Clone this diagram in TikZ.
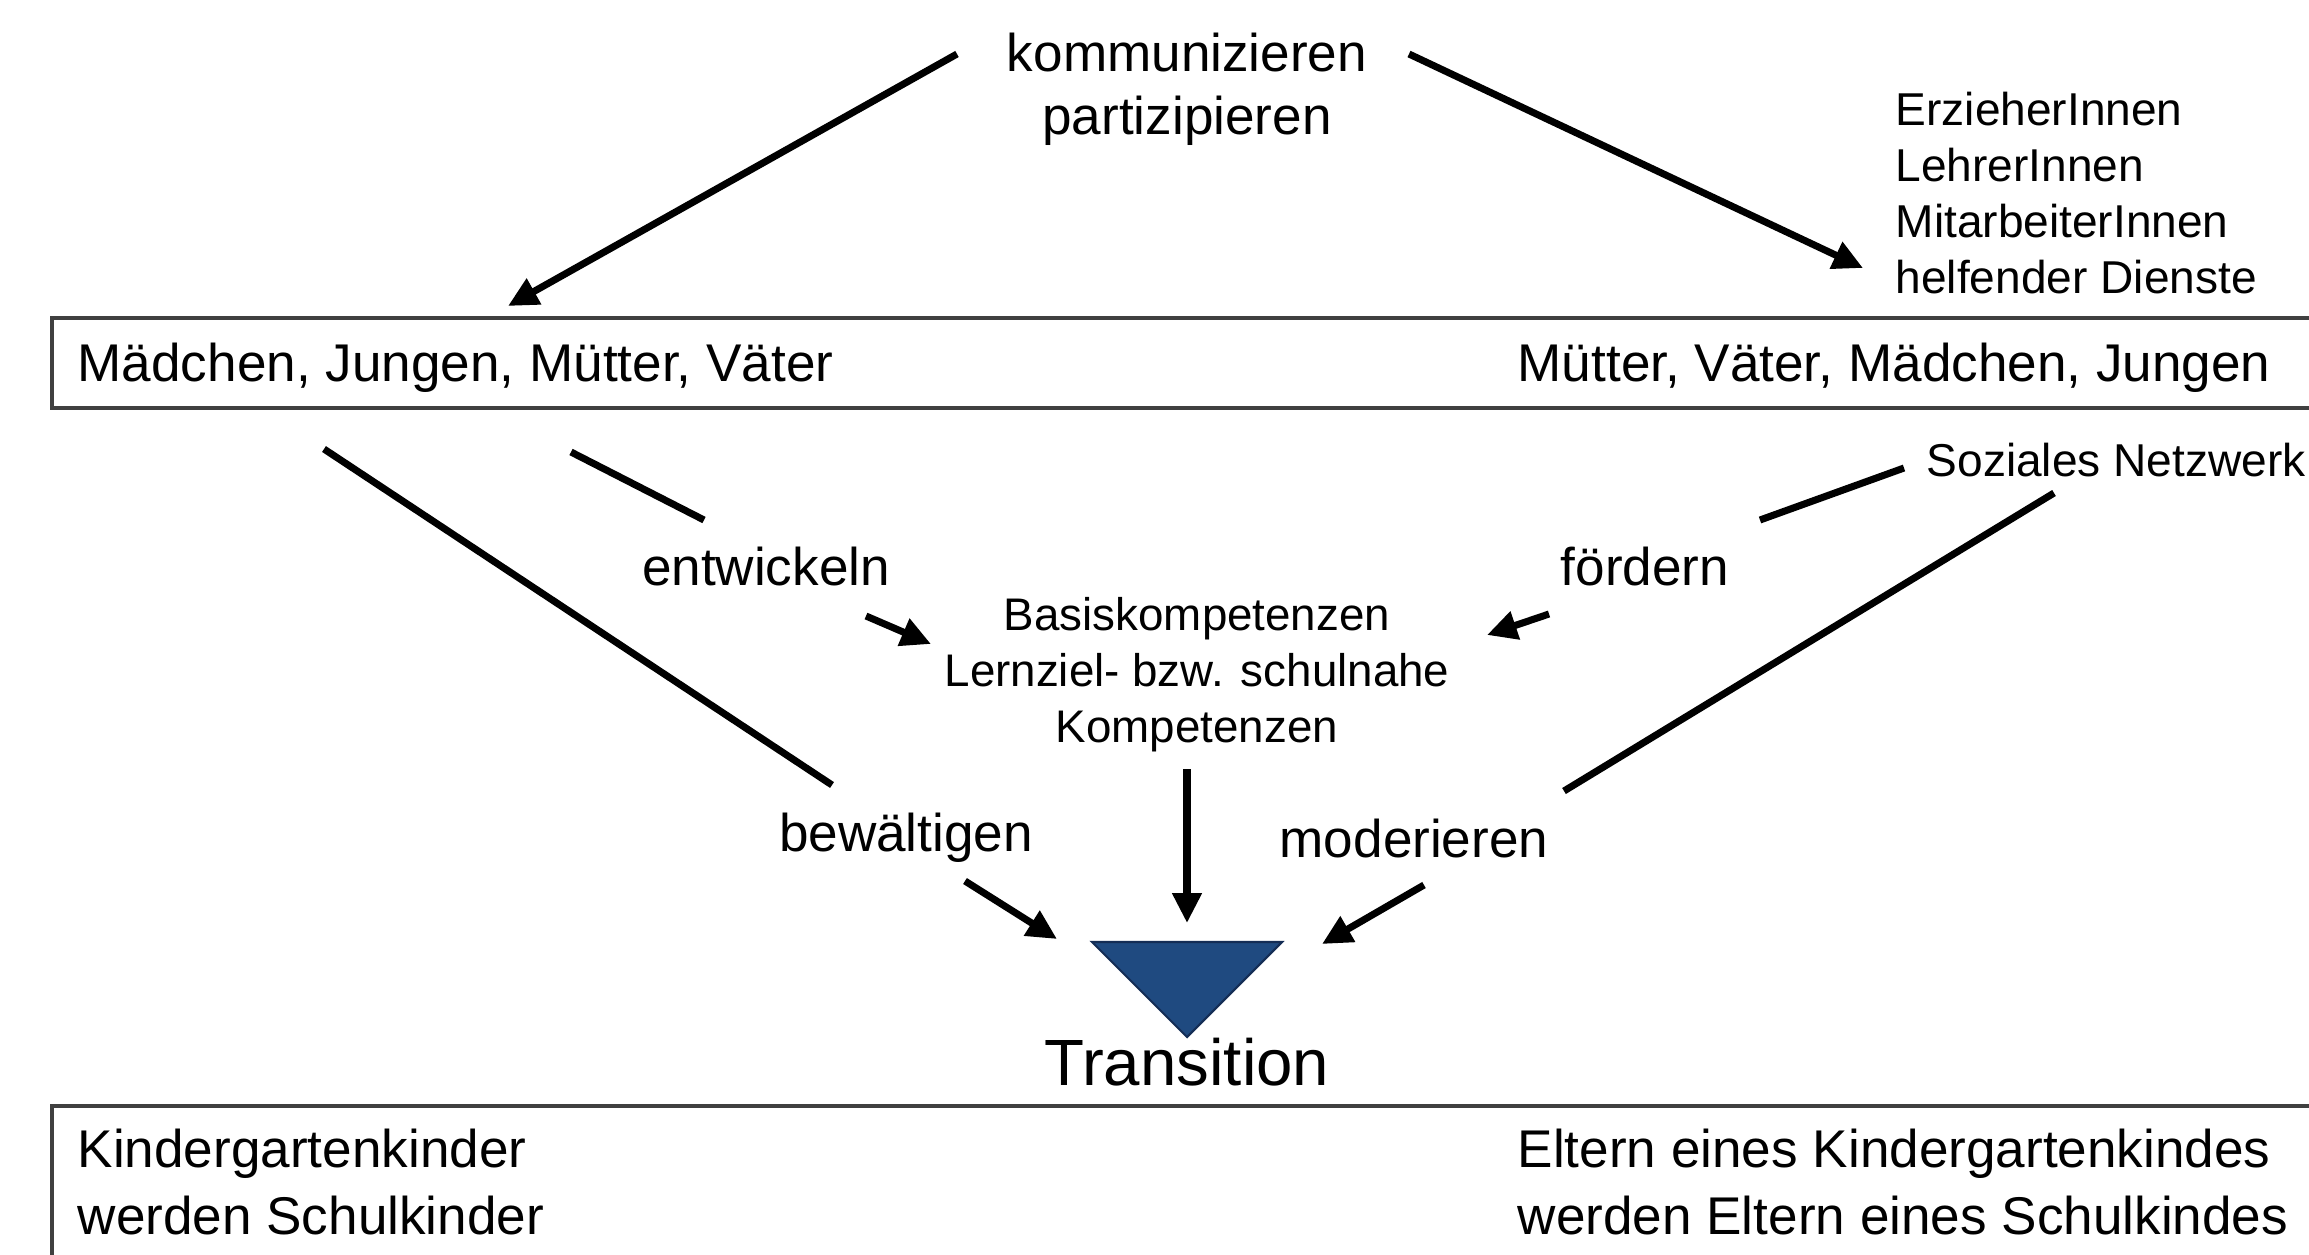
\documentclass[tikz,border=0pt]{standalone}
\usepackage{fontspec}
\setmainfont{Liberation Sans}
\usetikzlibrary{arrows.meta}
\definecolor{trifill}{RGB}{31,74,128}
\definecolor{triedge}{RGB}{20,45,85}
\tikzset{
  conn/.style={line width=2pt, black, line cap=butt},
  arr/.style={conn, -{Triangle[length=8.5pt,width=8pt]}},
  boxline/.style={draw=black!75, line width=0.9pt},
  bigtxt/.style={font=\fontsize{15.1}{17.9}\selectfont, inner sep=0pt},
  smalltxt/.style={font=\fontsize{13.1}{15.9}\selectfont, inner sep=0pt},
  basistxt/.style={font=\fontsize{13}{15.9}\selectfont, inner sep=0pt},
  transtxt/.style={font=\fontsize{18.6}{21}\selectfont, inner sep=0pt},
  boxtxt/.style={font=\fontsize{15.1}{18.8}\selectfont, inner sep=0pt}
}
\begin{document}
\begin{tikzpicture}[x=0.01cm, y=-0.01cm]
\useasboundingbox (0,0) rectangle (2309,1254);
\clip (0,0) rectangle (2309,1254);
\fill[white] (0,0) rectangle (2309,1254);

% boxes
\draw[boxline] (52,318) rectangle (2360,408);
\draw[boxline] (52,1106) rectangle (2360,1300);

% texts (multi-line nodes: base anchor = last line's baseline)
\node[bigtxt, align=center, anchor=base] (top) at (1187,134) {kommunizieren\\partizipieren};
\node[smalltxt, align=left, anchor=base west] (staff) at (1895,293) {ErzieherInnen\\LehrerInnen\\MitarbeiterInnen\\helfender Dienste};
\node[bigtxt, anchor=base west] (kidsL) at (77,381) {Mädchen, Jungen, Mütter, Väter};
\node[bigtxt, anchor=base west] (kidsR) at (1517,381) {Mütter, Väter, Mädchen, Jungen};
\node[smalltxt, anchor=base west] (netz) at (1926,476) {Soziales Netzwerk};
\node[bigtxt, anchor=base] (entw) at (766,585) {entwickeln};
\node[bigtxt, anchor=base] (foerd) at (1645,585) {fördern};
\node[basistxt, align=center, anchor=base] (basis) at (1197,742) {Basiskompetenzen\\Lernziel- bzw. schulnahe\\Kompetenzen};
\node[bigtxt, anchor=base] (bew) at (906,851) {bewältigen};
\node[bigtxt, anchor=base] (mod) at (1414,857) {moderieren};
\node[transtxt, anchor=base] (trans) at (1187,1085) {Transition};
\node[boxtxt, align=left, anchor=base west] (kg) at (77,1234) {Kindergartenkinder\\werden Schulkinder};
\node[boxtxt, align=left, anchor=base west] (el) at (1517,1234) {Eltern eines Kindergartenkindes\\werden Eltern eines Schulkindes};

% triangle
\draw[fill=trifill, draw=triedge, line width=0.6pt] (1092,942) coordinate (triL) -- (1282,942) coordinate (triR) -- (1187,1037) coordinate (triB) -- cycle;

% connector end points
\coordinate (kL) at (957,54);   \coordinate (kLe) at (508,306);
\coordinate (kR) at (1409,54);  \coordinate (kRe) at (1863,268);
\coordinate (l2a) at (324,449); \coordinate (l2b) at (832,785);
\coordinate (l3a) at (571,452); \coordinate (l3b) at (704,520);
\coordinate (ea) at (866,616);  \coordinate (eb) at (931,644);
\coordinate (r3a) at (1904,468); \coordinate (r3b) at (1760,520);
\coordinate (fa) at (1549,614); \coordinate (fb) at (1487,635);
\coordinate (r2a) at (2054,493); \coordinate (r2b) at (1564,791);
\coordinate (ca) at (1187,769); \coordinate (cb) at (1187,923);
\coordinate (ba) at (965,881);  \coordinate (bb) at (1057,939);
\coordinate (ma) at (1424,885); \coordinate (mb) at (1322,944);

\draw[arr] (kL) -- (kLe);
\draw[arr] (kR) -- (kRe);
\draw[conn] (l2a) -- (l2b);
\draw[conn] (l3a) -- (l3b);
\draw[arr] (ea) -- (eb);
\draw[conn] (r3a) -- (r3b);
\draw[arr] (fa) -- (fb);
\draw[conn] (r2a) -- (r2b);
\draw[arr] (ca) -- (cb);
\draw[arr] (ba) -- (bb);
\draw[arr] (ma) -- (mb);
\end{tikzpicture}
\end{document}
